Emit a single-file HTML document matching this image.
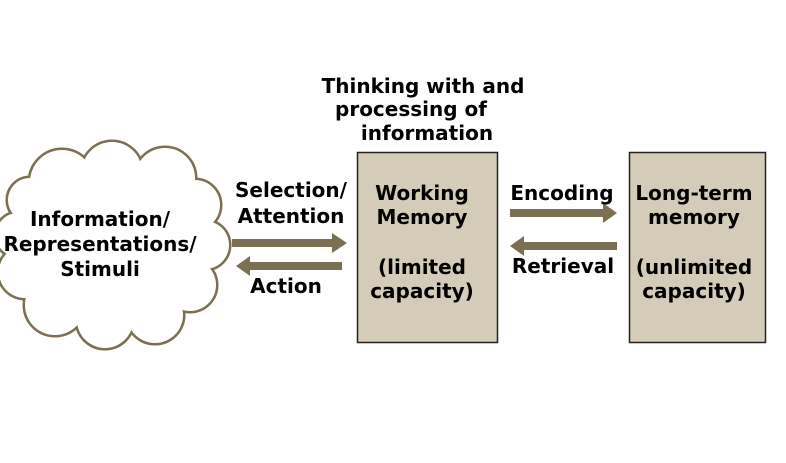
<!DOCTYPE html>
<html><head><style>
body{margin:0;background:#fff;width:786px;height:458px;overflow:hidden}
text{font-family:"DejaVu Sans","Liberation Sans",sans-serif;font-weight:bold;font-size:20px;fill:#000;text-anchor:middle}
</style></head><body>
<svg width="786" height="458" viewBox="0 0 786 458">
<g fill="none" stroke="#7c7052" stroke-width="5">
<circle cx="62" cy="182" r="32"/><circle cx="112" cy="172" r="30"/><circle cx="165" cy="178" r="30"/><circle cx="195" cy="205" r="25"/>
<circle cx="205" cy="245" r="24"/><circle cx="190" cy="285" r="26"/><circle cx="155" cy="315" r="28"/><circle cx="105" cy="320" r="28"/>
<circle cx="55" cy="305" r="30"/><circle cx="25" cy="272" r="26"/><circle cx="18" cy="235" r="22"/><circle cx="30" cy="200" r="22"/>
</g>
<g fill="#fff">
<circle cx="62" cy="182" r="32"/><circle cx="112" cy="172" r="30"/><circle cx="165" cy="178" r="30"/><circle cx="195" cy="205" r="25"/>
<circle cx="205" cy="245" r="24"/><circle cx="190" cy="285" r="26"/><circle cx="155" cy="315" r="28"/><circle cx="105" cy="320" r="28"/>
<circle cx="55" cy="305" r="30"/><circle cx="25" cy="272" r="26"/><circle cx="18" cy="235" r="22"/><circle cx="30" cy="200" r="22"/>
<ellipse cx="110" cy="245" rx="95" ry="75"/>
</g>
<rect x="357.5" y="152.5" width="140" height="190" fill="#d4ccb9" stroke="#222" stroke-width="1.5"/>
<rect x="629.5" y="152.5" width="136" height="190" fill="#d4ccb9" stroke="#222" stroke-width="1.5"/>
<g fill="#7c7052">
<polygon points="232,239 332,239 332,233 347,243 332,253 332,247 232,247"/>
<polygon points="342,262 250,262 250,256 236,266 250,276 250,270 342,270"/>
<polygon points="510,209 603,209 603,203 617,213 603,223 603,217 510,217"/>
<polygon points="617,242 524,242 524,236 510,246 524,256 524,250 617,250"/>
</g>
<text x="423" y="93">Thinking with and</text>
<text x="411" y="116">processing of</text>
<text x="427" y="140">information</text>
<text x="100" y="226">Information/</text>
<text x="100" y="251">Representations/</text>
<text x="100" y="276">Stimuli</text>
<text x="291" y="197">Selection/</text>
<text x="291" y="223">Attention</text>
<text x="286" y="293">Action</text>
<text x="422" y="200">Working</text>
<text x="422" y="224">Memory</text>
<text x="422" y="274">(limited</text>
<text x="422" y="298">capacity)</text>
<text x="562" y="200">Encoding</text>
<text x="563" y="273">Retrieval</text>
<text x="694" y="200">Long-term</text>
<text x="694" y="224">memory</text>
<text x="694" y="274">(unlimited</text>
<text x="694" y="298">capacity)</text>
</svg>
</body></html>
